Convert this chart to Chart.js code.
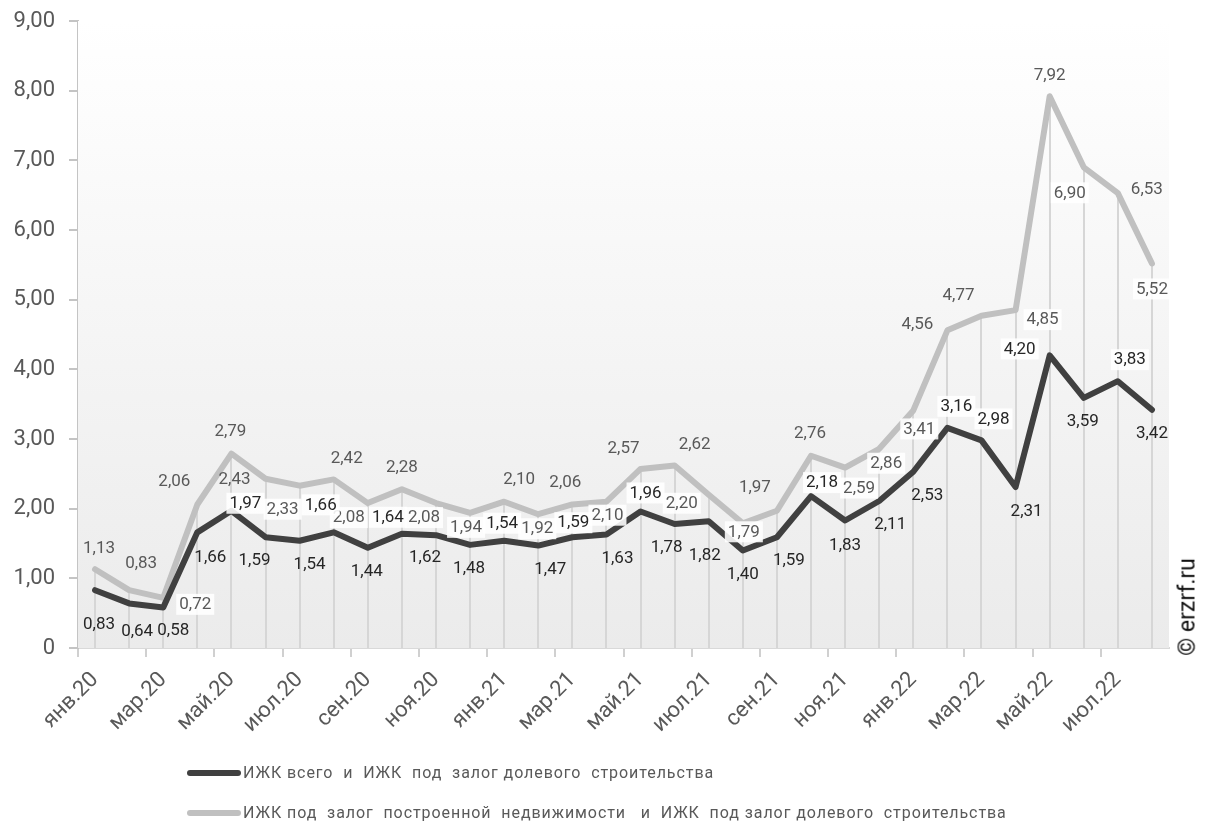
<!DOCTYPE html>
<html lang="ru">
<head>
<meta charset="utf-8">
<title>ИЖК</title>
<script src="https://cdn.jsdelivr.net/npm/chart.js@4.4.1/dist/chart.umd.min.js"></script>
<style>
  html, body { margin: 0; padding: 0; background: #ffffff; }
  #wrap { position: relative; width: 1207px; height: 823px; overflow: hidden; }
  #chart { position: absolute; left: 0; top: 0; }
  #legend { position: absolute; left: 187px; top: 760px; font-family: Roboto, "Noto Sans", sans-serif; font-size: 16px; color: #595959; }
  .item { position: relative; height: 40px; line-height: 26px; white-space: pre; }
  .swatch { position: absolute; left: 0; top: 10px; width: 54px; height: 6px; border-radius: 3px; }
  .text { position: absolute; left: 56px; top: 0; letter-spacing: 0.93px; }
  #mark { position: absolute; left: 1187px; top: 607px; transform: translate(-50%, -50%) rotate(-90deg); font-family: Roboto, "Noto Sans", sans-serif; font-size: 23px; color: #111111; white-space: nowrap; }
</style>
</head>
<body>
<div id="wrap">
  <canvas id="chart" width="1207" height="823"></canvas>
  <div id="legend"></div>
  <div id="mark">© erzrf.ru</div>
</div>
<script>
// Months, January 2020 – August 2022
const months = [
  'янв.20','фев.20','мар.20','апр.20','май.20','июн.20','июл.20','авг.20','сен.20','окт.20','ноя.20','дек.20',
  'янв.21','фев.21','мар.21','апр.21','май.21','июн.21','июл.21','авг.21','сен.21','окт.21','ноя.21','дек.21',
  'янв.22','фев.22','мар.22','апр.22','май.22','июн.22','июл.22','авг.22'
];

// ИЖК всего / ИЖК под залог долевого строительства
const totalRatio = [
  0.83, 0.64, 0.58, 1.66, 1.97, 1.59, 1.54, 1.66, 1.44, 1.64, 1.62, 1.48,
  1.54, 1.47, 1.59, 1.63, 1.96, 1.78, 1.82, 1.40, 1.59, 2.18, 1.83, 2.11,
  2.53, 3.16, 2.98, 2.31, 4.20, 3.59, 3.83, 3.42
];

// ИЖК под залог построенной недвижимости / ИЖК под залог долевого строительства
const builtRatio = [
  1.13, 0.83, 0.72, 2.06, 2.79, 2.43, 2.33, 2.42, 2.08, 2.28, 2.08, 1.94,
  2.10, 1.92, 2.06, 2.10, 2.57, 2.62, 2.20, 1.79, 1.97, 2.76, 2.59, 2.86,
  3.41, 4.56, 4.77, 4.85, 7.92, 6.90, 6.53, 5.52
];

// Y axis ticks
const yTicks = [0, 1, 2, 3, 4, 5, 6, 7, 8, 9];

const seriesNames = [
  'ИЖК всего  и  ИЖК  под  залог долевого  строительства',
  'ИЖК под  залог  построенной  недвижимости   и  ИЖК  под залог долевого  строительства'
];

// Value-label nudges (dx, dy in px from the point) so the labels do not collide
const totalNudge = [
  [4,34],[8,27],[10,22],[13,24],[14,-8],[-11,23],[10,23],[-13,-28],
  [-1,23],[-14,-17],[-11,22],[-1,23],[-2,-18],[12,23],[1,-15],[11,23],
  [5,-19],[-8,23],[-4,34],[0,23],[12,23],[11,-14],[0,24],[11,23],
  [14,23],[9,-22],[12,-22],[11,24],[-30,-7],[-1,23],[12,-22],[0,23]
];
const builtNudge = [
  [4,-22],[12,-27],[32,6],[-23,-24],[-1,-23],[-31,0],[-17,23],[13,-22],
  [-19,14],[0,-22],[-12,14],[-4,14],[15,-23],[-1,14],[-7,-23],[1,13],
  [-17,-21],[20,-22],[-27,8],[1,8],[-22,-24],[-1,-23],[14,20],[7,14],
  [6,18],[-30,-7],[-23,-21],[27,9],[0,-21],[-14,25],[29,-4],[0,25]
];

const fmt = v => v.toFixed(2).replace('.', ',');

const backdrop = {
  id: 'backdrop',
  beforeDatasetsDraw(chart) {
    const { ctx, chartArea: a } = chart;
    ctx.save();
    const g = ctx.createLinearGradient(0, a.top, 0, a.bottom);
    g.addColorStop(0, '#ffffff');
    g.addColorStop(1, '#ebebeb');
    ctx.fillStyle = g;
    ctx.fillRect(a.left, a.top, a.right - a.left, a.bottom - a.top);
    // drop lines from the upper series down to the axis
    const meta = chart.getDatasetMeta(1);
    const ys = chart.scales.y;
    ctx.strokeStyle = '#d6d6d6';
    ctx.lineWidth = 2;
    meta.data.forEach((pt, i) => {
      const top = ys.getPixelForValue(Math.max(builtRatio[i], totalRatio[i]));
      ctx.beginPath();
      ctx.moveTo(Math.round(pt.x), top);
      ctx.lineTo(Math.round(pt.x), a.bottom);
      ctx.stroke();
    });
    ctx.restore();
  }
};

const valueLabels = {
  id: 'valueLabels',
  afterDatasetsDraw(chart) {
    const { ctx } = chart;
    ctx.save();
    ctx.font = '17px Roboto, "Noto Sans", sans-serif';
    ctx.textAlign = 'center';
    ctx.textBaseline = 'middle';
    const sets = [
      { idx: 1, values: builtRatio, nudge: builtNudge, color: '#595959', below: true },
      { idx: 0, values: totalRatio, nudge: totalNudge, color: '#262626', below: false }
    ];
    sets.forEach(s => {
      const meta = chart.getDatasetMeta(s.idx);
      meta.data.forEach((pt, i) => {
        const [dx, dy] = s.nudge[i];
        const x = pt.x + dx, y = pt.y + dy;
        const text = fmt(s.values[i]);
        // labels that sit between the two lines get a white plate
        const between = s.below ? dy > 0 : dy < 0;
        if (between) {
          const w = ctx.measureText(text).width;
          ctx.fillStyle = 'rgba(255,255,255,0.88)';
          ctx.fillRect(x - w / 2 - 3, y - 10, w + 6, 21);
        }
        ctx.fillStyle = s.color;
        ctx.fillText(text, x, y + 1);
      });
    });
    ctx.restore();
  }
};

const chart = new Chart(document.getElementById('chart'), {
  type: 'line',
  data: {
    labels: months,
    datasets: [
      {
        label: seriesNames[0], data: totalRatio,
        borderColor: '#404040', backgroundColor: '#404040',
        borderWidth: 6, pointRadius: 0, tension: 0,
        borderJoinStyle: 'round', borderCapStyle: 'round', order: 0
      },
      {
        label: seriesNames[1], data: builtRatio,
        borderColor: '#c0c0c0', backgroundColor: '#c0c0c0',
        borderWidth: 6, pointRadius: 0, tension: 0,
        borderJoinStyle: 'round', borderCapStyle: 'round', order: 1
      }
    ]
  },
  options: {
    responsive: false,
    animation: false,
    events: [],
    layout: { padding: { top: 21, right: 38, bottom: 65, left: 0 } },
    plugins: { legend: { display: false }, tooltip: { enabled: false } },
    scales: {
      x: {
        type: 'category',
        offset: true,
        border: { color: '#d9d9d9', width: 2 },
        grid: {
          offset: true, drawOnChartArea: false, tickLength: 9, lineWidth: 2,
          tickColor: c => (c.index % 2 === 0 ? '#d0d0d0' : 'rgba(0,0,0,0)')
        },
        ticks: {
          autoSkip: false, minRotation: 45, maxRotation: 45, padding: 10,
          color: '#595959', font: { family: 'Roboto, "Noto Sans", sans-serif', size: 22 },
          callback: (v, i) => (i % 2 === 0 ? months[i] : '')
        },
        afterFit: s => { s.height = 110; s.paddingLeft = 0; s.paddingRight = 0; }
      },
      y: {
        min: 0, max: 9,
        afterBuildTicks: s => { s.ticks = yTicks.map(v => ({ value: v })); },
        border: { color: '#c4c4c4', width: 2 },
        grid: { drawOnChartArea: false, tickLength: 9, lineWidth: 2, tickColor: '#c4c4c4' },
        ticks: {
          padding: 14, color: '#595959',
          font: { family: 'Roboto, "Noto Sans", sans-serif', size: 22 },
          callback: v => (v === 0 ? '0' : fmt(v))
        },
        afterFit: s => { s.width = 78; s.paddingTop = 0; s.paddingBottom = 0; }
      }
    }
  },
  plugins: [backdrop, valueLabels]
});

// Legend under the chart, built from the datasets
const legend = document.getElementById('legend');
chart.data.datasets.forEach(ds => {
  const item = document.createElement('div');
  item.className = 'item';
  const sw = document.createElement('span');
  sw.className = 'swatch';
  sw.style.background = ds.borderColor;
  const tx = document.createElement('span');
  tx.className = 'text';
  tx.textContent = ds.label;
  item.appendChild(sw);
  item.appendChild(tx);
  legend.appendChild(item);
});
</script>
</body>
</html>
